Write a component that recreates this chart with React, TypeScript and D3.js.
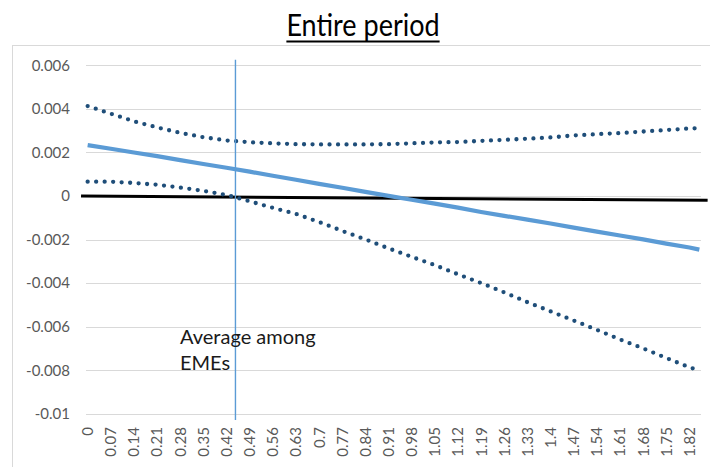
import { useEffect, useRef } from 'react';
import * as d3 from 'd3';

// values at every 7th category (the labelled ones) plus the last one
const xValues = [0, 0.07, 0.14, 0.21, 0.28, 0.35, 0.42, 0.49, 0.56, 0.63, 0.7, 0.77, 0.84, 0.91,
  0.98, 1.05, 1.12, 1.19, 1.26, 1.33, 1.4, 1.47, 1.54, 1.61, 1.68, 1.75, 1.82, 1.85];

const estimate = [0.00234, 0.00217, 0.00200, 0.00183, 0.00165, 0.00147, 0.00130, 0.00112, 0.00093,
  0.00075, 0.00056, 0.00038, 0.00019, 0.00001, -0.00017, -0.00035, -0.00053, -0.00073, -0.00091,
  -0.00108, -0.00126, -0.00145, -0.00163, -0.00181, -0.00199, -0.00218, -0.00236, -0.00246];

const upperBound = [0.00413, 0.00378, 0.00343, 0.00315, 0.00290, 0.00270, 0.00255, 0.00247, 0.00242,
  0.00238, 0.00237, 0.00237, 0.00237, 0.00238, 0.00242, 0.00246, 0.00248, 0.00253, 0.00258, 0.00263,
  0.00269, 0.00278, 0.00284, 0.00289, 0.00296, 0.00303, 0.00310, 0.00312];

const lowerBound = [0.00066, 0.00066, 0.00060, 0.00052, 0.00039, 0.00024, 0.00005, -0.00024, -0.00054,
  -0.00082, -0.00119, -0.00160, -0.00199, -0.00240, -0.00279, -0.00317, -0.00359, -0.00399, -0.00442,
  -0.00487, -0.00529, -0.00571, -0.00614, -0.00658, -0.00699, -0.00743, -0.00786, -0.00800];

const xTickLabels = ['0', '0.07', '0.14', '0.21', '0.28', '0.35', '0.42', '0.49', '0.56', '0.63', '0.7',
  '0.77', '0.84', '0.91', '0.98', '1.05', '1.12', '1.19', '1.26', '1.33', '1.4', '1.47', '1.54', '1.61',
  '1.68', '1.75', '1.82'];

const yTicks = [0.006, 0.004, 0.002, 0, -0.002, -0.004, -0.006, -0.008, -0.01];
const yTickLabels = ['0.006', '0.004', '0.002', '0', '-0.002', '-0.004', '-0.006', '-0.008', '-0.01'];

const emeAverage = 0.447;

const App = () => {
  const svgRef = useRef<SVGSVGElement>(null);

  useEffect(() => {
    const svg = d3.select(svgRef.current);
    svg.selectAll('*').remove();

    const width = 710;
    const height = 467;
    const font = 'Lato, "Open Sans", sans-serif';

    svg.attr('width', width).attr('height', height);

    // background + chart frame
    svg.append('rect').attr('width', width).attr('height', height).attr('fill', '#fff');
    svg.append('rect')
      .attr('x', 12.5).attr('y', 45.5)
      .attr('width', 730).attr('height', 460)
      .attr('fill', 'none').attr('stroke', '#d9d9d9');

    // title (sits above the frame, underlined)
    const title = svg.append('text')
      .attr('transform', 'translate(363,36) scale(1,1.12)')
      .attr('text-anchor', 'middle')
      .attr('font-family', font)
      .attr('font-size', 27)
      .attr('fill', '#000')
      .text('Entire period');
    const tb = (title.node() as SVGTextElement).getBBox();
    svg.append('line')
      .attr('x1', 363 + tb.x).attr('x2', 363 + tb.x + tb.width)
      .attr('y1', 41.5).attr('y2', 41.5)
      .attr('stroke', '#000').attr('stroke-width', 2);

    const x = d3.scaleLinear().domain([-0.005, 1.855]).range([86, 701]);
    const y = d3.scaleLinear().domain([-0.01, 0.006]).range([414, 65.3]);

    // gridlines
    svg.append('g')
      .selectAll('line')
      .data(yTicks)
      .enter()
      .append('line')
      .attr('x1', 86).attr('x2', 701)
      .attr('y1', d => Math.round(y(d)) + 0.5)
      .attr('y2', d => Math.round(y(d)) + 0.5)
      .attr('stroke', '#d9d9d9')
      .attr('stroke-width', 1);

    // y tick labels
    svg.append('g')
      .selectAll('text')
      .data(yTicks)
      .enter()
      .append('text')
      .attr('x', 70)
      .attr('y', d => y(d))
      .attr('dy', '0.35em')
      .attr('text-anchor', 'end')
      .attr('font-family', font)
      .attr('font-size', 15)
      .attr('fill', '#595959')
      .text((d, i) => yTickLabels[i]);

    // x tick labels, rotated
    svg.append('g')
      .selectAll('text')
      .data(xTickLabels)
      .enter()
      .append('text')
      .attr('transform', d => `translate(${x(+d)},427) rotate(-90)`)
      .attr('dy', '0.36em')
      .attr('text-anchor', 'end')
      .attr('font-family', font)
      .attr('font-size', 15)
      .attr('fill', '#595959')
      .text(d => d);

    // zero reference line (drawn shape, slightly tilted)
    svg.append('line')
      .attr('x1', x(-0.02)).attr('x2', x(1.875))
      .attr('y1', y(0)).attr('y2', y(-0.00019))
      .attr('stroke', '#000')
      .attr('stroke-width', 3);

    const line = d3.line<number>()
      .x((d, i) => x(xValues[i]))
      .y(d => y(d));

    // confidence bands (round-dot lines)
    [upperBound, lowerBound].forEach(series => {
      svg.append('path')
        .attr('d', line(series))
        .attr('fill', 'none')
        .attr('stroke', '#1f4e79')
        .attr('stroke-width', 4.3)
        .attr('stroke-linecap', 'round')
        .attr('stroke-dasharray', '0 8.5');
    });

    // point estimate
    svg.append('path')
      .attr('d', line(estimate))
      .attr('fill', 'none')
      .attr('stroke', '#5b9bd5')
      .attr('stroke-width', 4.2)
      .attr('stroke-linejoin', 'round');

    // EME average marker
    svg.append('line')
      .attr('x1', x(emeAverage)).attr('x2', x(emeAverage))
      .attr('y1', y(0.00625)).attr('y2', y(-0.01028))
      .attr('stroke', '#5b9bd5')
      .attr('stroke-width', 1.4);

    const note = svg.append('text')
      .attr('font-family', font)
      .attr('font-size', 20)
      .attr('fill', '#1a1a1a');
    note.append('tspan').attr('x', 180).attr('y', 344).text('Average among');
    note.append('tspan').attr('x', 180).attr('y', 370).text('EMEs');
  }, []);

  return (
    <svg ref={svgRef} style={{ position: 'absolute', left: 0, top: 0, display: 'block' }}></svg>
  );
};

export default App;
